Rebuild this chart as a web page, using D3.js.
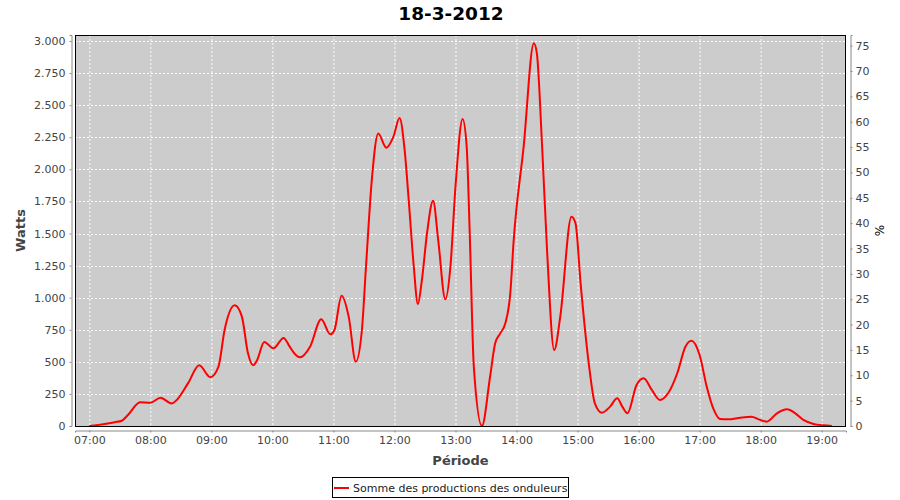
<!DOCTYPE html>
<html><head><meta charset="utf-8">
<script src="https://cdn.jsdelivr.net/npm/d3@7"></script>
<style>
body{margin:0;background:#fff;}
svg{display:block;font-family:"DejaVu Sans",sans-serif;}
</style></head>
<body><svg id="c" width="900" height="500"></svg>
<script>
const title = "18-3-2012";
const times = ["07:00","07:15","07:25","07:32","07:38","07:50","08:00","08:10","08:21","08:26","08:37","08:48","08:59","09:07","09:13","09:23","09:30","09:36","09:41","09:45","09:52","10:01","10:11","10:17","10:23","10:27","10:37","10:48","10:57","11:01","11:08","11:15","11:22","11:28","11:32","11:38","11:44","11:52","11:59","12:05","12:10","12:14","12:19","12:23","12:27","12:32","12:38","12:43","12:50","12:55","13:00","13:07","13:11","13:14","13:18","13:26","13:34","13:39","13:44","13:49","13:54","13:57","14:07","14:17","14:20","14:25","14:30","14:37","14:43","14:54","14:58","15:03","15:11","15:17","15:24","15:32","15:39","15:44","15:49","15:58","16:05","16:13","16:21","16:29","16:38","16:46","16:52","17:00","17:07","17:14","17:20","17:28","17:40","17:51","17:58","18:06","18:16","18:26","18:34","18:42","18:52","19:02","19:10"];
const watts = [0,16,30,41,86,185,182,220,176,203,332,473,380,462,748,940,852,566,473,514,655,605,686,618,553,535,618,831,714,748,1015,852,501,748,1241,1943,2280,2169,2255,2400,2151,1761,1241,950,1138,1502,1756,1449,987,1241,1865,2392,2177,1502,465,0,384,644,722,800,1047,1424,2177,2982,2904,2203,1371,592,852,1631,1579,1112,488,177,104,151,216,151,99,320,372,281,203,255,411,618,665,553,306,125,55,52,65,72,52,34,99,130,99,47,16,5,0];
const xTickLabels = ["07:00","08:00","09:00","10:00","11:00","12:00","13:00","14:00","15:00","16:00","17:00","18:00","19:00"];
const yTicks = [0,250,500,750,1000,1250,1500,1750,2000,2250,2500,2750,3000];
const pctTicks = [0,5,10,15,20,25,30,35,40,45,50,55,60,65,70,75];
const seriesName = "Somme des productions des onduleurs";
const xLabel = "Période", yLabel = "Watts", y2Label = "%";

const toMin = s => { const [h,m] = s.split(":").map(Number); return h*60+m; };
const data = times.map((t,i)=>({x:toMin(t), y:watts[i]}));

const svg = d3.select("#c");
const L=75, R=846, T=35, B=426;
const x = d3.scaleLinear().domain([405.94, 1163.9]).range([L,R]);
const y = d3.scaleLinear().domain([0, 3046.8]).range([B,T]);
const y2 = d3.scaleLinear().domain([0, 77.1]).range([B,T]);
const loc = d3.formatLocale({decimal:",", thousands:".", grouping:[3], currency:["","€"]});
const fmt = loc.format(",d");

// plot background
svg.append("rect").attr("x",L).attr("y",T).attr("width",R-L).attr("height",B-T).attr("fill","#cccccc");

// grid
const xt = xTickLabels.map(toMin);
svg.append("g").selectAll("line").data(xt).join("line")
  .attr("x1",d=>x(d)+0.5).attr("x2",d=>x(d)+0.5).attr("y1",T).attr("y2",B)
  .attr("stroke","#fff").attr("stroke-dasharray","2,2");
svg.append("g").selectAll("line").data(yTicks).join("line")
  .attr("x1",L).attr("x2",R).attr("y1",d=>Math.round(y(d))+0.5).attr("y2",d=>Math.round(y(d))+0.5)
  .attr("stroke","#fff").attr("stroke-dasharray","2,2");

// line
const clip = svg.append("clipPath").attr("id","cp").append("rect").attr("x",L).attr("y",T).attr("width",R-L).attr("height",B-T);
svg.append("path").datum(data).attr("clip-path","url(#cp)")
  .attr("fill","none").attr("stroke","#ff0000").attr("stroke-width",2)
  .attr("d", d3.line().x(d=>x(d.x)).y(d=>y(d.y)).curve(d3.curveMonotoneX));

// plot border
svg.append("rect").attr("x",L+0.5).attr("y",T+0.5).attr("width",R-L-1).attr("height",B-T).attr("fill","none").attr("stroke","#000");

// axes
function styleAxis(g){
  g.select(".domain").attr("stroke","#888");
  g.selectAll(".tick line").attr("stroke","#888");
  g.selectAll(".tick text").attr("fill","#444").style("font-size","11px").style("font-family","DejaVu Sans");
}
const fmtT = m => String(Math.floor(m/60)).padStart(2,"0")+":"+String(m%60).padStart(2,"0");
const gx = svg.append("g").attr("transform",`translate(0,${B+4.5})`)
  .call(d3.axisBottom(x).tickValues(xt).tickFormat(fmtT).tickSizeOuter(0).tickSize(2).tickPadding(4));
styleAxis(gx);
const gy = svg.append("g").attr("transform",`translate(${L-3.5},0)`)
  .call(d3.axisLeft(y).tickValues(yTicks).tickFormat(fmt).tickSizeOuter(0).tickSize(2).tickPadding(4));
styleAxis(gy);
const gy2 = svg.append("g").attr("transform",`translate(${R+4.5},0)`)
  .call(d3.axisRight(y2).tickValues(pctTicks).tickSizeOuter(0).tickSize(2).tickPadding(3));
styleAxis(gy2);

// labels
svg.append("text").attr("x",451).attr("y",20).attr("text-anchor","middle")
  .style("font-weight","bold").style("font-size","18.5px").attr("fill","#000").text(title);
svg.append("text").attr("x",(L+R)/2).attr("y",465).attr("text-anchor","middle")
  .style("font-weight","bold").style("font-size","13px").attr("fill","#444").text(xLabel);
svg.append("text").attr("transform",`translate(25,${(T+B)/2}) rotate(-90)`).attr("text-anchor","middle")
  .style("font-weight","bold").style("font-size","13px").attr("fill","#444").text(yLabel);
svg.append("text").attr("transform",`translate(884,${(T+B)/2}) rotate(-90)`).attr("text-anchor","middle")
  .style("font-size","12px").attr("fill","#000").text(y2Label);

// legend
const lg = svg.append("g");
lg.append("rect").attr("x",332.5).attr("y",477.5).attr("width",236).attr("height",20).attr("fill","#fff").attr("stroke","#000");
lg.append("line").attr("x1",334).attr("x2",349).attr("y1",488).attr("y2",488).attr("stroke","#ff0000").attr("stroke-width",2);
lg.append("text").attr("x",353).attr("y",492).style("font-size","11px").attr("fill","#222").text(seriesName);
</script></body></html>
